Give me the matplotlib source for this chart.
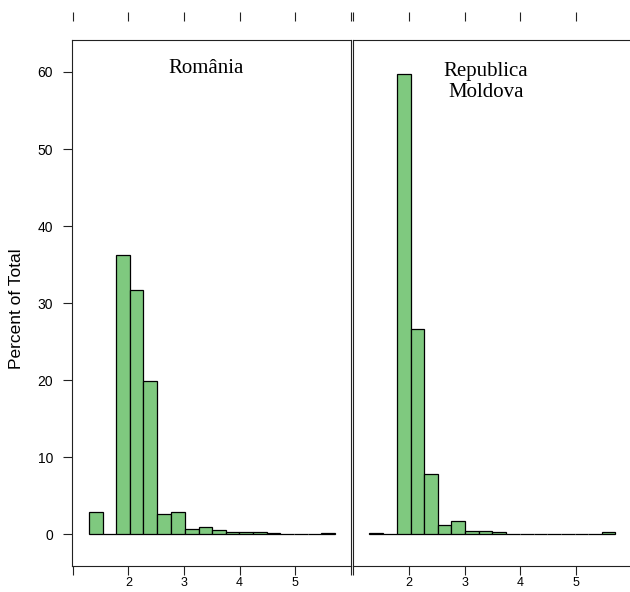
import matplotlib
matplotlib.use("Agg")
import matplotlib.pyplot as plt
import numpy as np

# ---- data ----
bin_edges = [1.29, 1.54, 1.78, 2.03, 2.27, 2.52, 2.76, 3.01, 3.26, 3.50,
             3.75, 3.99, 4.24, 4.49, 4.73, 4.98, 5.22, 5.47, 5.71]
romania_pct = [2.9, 0.0, 36.3, 31.7, 19.9, 2.7, 2.9, 0.75, 1.0, 0.55,
               0.35, 0.35, 0.35, 0.2, 0.0, 0.0, 0.0, 0.2]
moldova_pct = [0.15, 0.0, 59.8, 26.6, 7.9, 1.2, 1.8, 0.45, 0.45, 0.3,
               0.1, 0.1, 0.1, 0.1, 0.0, 0.0, 0.0, 0.35]
panel_titles = ["România", "Republica\nMoldova"]
x_ticks = [1, 2, 3, 4, 5, 6]
x_ticklabels = ["", "2", "3", "4", "5", ""]
y_ticks = [0, 10, 20, 30, 40, 50, 60]
y_label = "Percent of Total"

# ---- layout ----
W, H = 630, 592
fig = plt.figure(figsize=(W / 100, H / 100), dpi=100)
panel_bottom, panel_top = 566, 40
ax_l = fig.add_axes([72 / W, (H - panel_bottom) / H, 279 / W, (panel_bottom - panel_top) / H])
ax_r = fig.add_axes([352.5 / W, (H - panel_bottom) / H, 279 / W, (panel_bottom - panel_top) / H])

fill = "#7FC97F"
edges = np.array(bin_edges)
lefts = edges[:-1]
widths = np.diff(edges)
sans = ["Liberation Sans", "DejaVu Sans"]
serif = ["Liberation Serif", "DejaVu Serif"]
line_frac = 24 / (panel_bottom - panel_top)

for ax, vals, title in [(ax_l, romania_pct, panel_titles[0]),
                        (ax_r, moldova_pct, panel_titles[1])]:
    ax.bar(lefts, vals, width=widths, align="edge", color=fill,
           edgecolor="black", linewidth=0.9)
    ax.set_xlim(0.985, 6.002)
    ax.set_ylim(-4.09, 64.15)
    for s in ax.spines.values():
        s.set_linewidth(0.8)
        s.set_color("#222222")
    ax.set_xticks(x_ticks)
    ax.set_xticklabels(x_ticklabels, fontsize=9, family=sans)
    ax.tick_params(axis="x", direction="out", length=6.5, width=0.8,
                   pad=1.5, top=False, color="#222222")
    ax.tick_params(axis="y", right=False)
    n_extra = title.count("\n")
    ax.text(0.479, 0.937 - n_extra * line_frac, title, transform=ax.transAxes,
            ha="center", va="baseline", multialignment="center", fontsize=15,
            family=serif, linespacing=1.15)
    sec = ax.secondary_xaxis(1.037)
    for s in sec.spines.values():
        s.set_visible(False)
    sec.set_xticks(x_ticks)
    sec.set_xticklabels([])
    sec.tick_params(direction="out", length=6.5, width=0.8, color="#222222")

ax_l.set_yticks(y_ticks)
ax_l.set_yticklabels([str(v) for v in y_ticks], fontsize=10, family=sans)
ax_l.tick_params(axis="y", direction="out", length=6.5, width=0.8, pad=7,
                 color="#222222")
ax_r.tick_params(axis="y", left=False, labelleft=False)

fig.text(17 / W, 1 - 309 / H, y_label, rotation=90, ha="center", va="center",
         fontsize=12.5, family=sans)

fig.savefig("out.png", dpi=100)
